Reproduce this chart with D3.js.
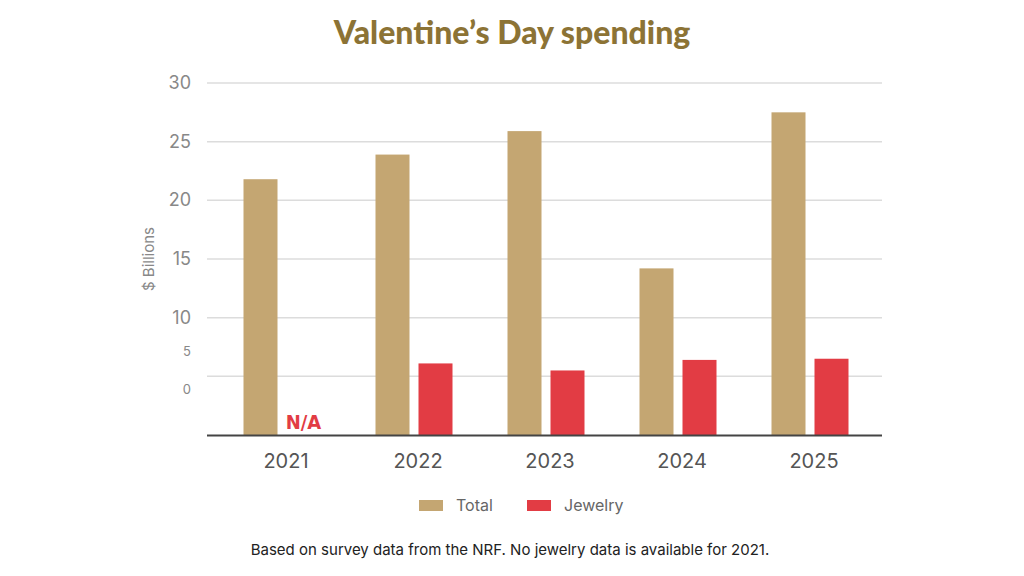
<!DOCTYPE html>
<html><head><meta charset="utf-8">
<script src="https://cdn.jsdelivr.net/npm/d3@7"></script>
<style>body{margin:0;background:#fff}</style></head>
<body><svg id="c" width="1024" height="576"></svg>
<script>
const years = ["2021","2022","2023","2024","2025"];
const total = [21.8, 23.9, 25.9, 14.2, 27.5];
const jewelry = [null, 6.1, 5.5, 6.4, 6.5];
const gridTicks = [0,5,10,15,20,25,30];
const tickLabels = ["0","5","10","15","20","25","30"];

const svg = d3.select("#c");
const y = d3.scaleLinear().domain([0,30]).range([435,83]);
const x = d3.scaleBand().domain(years).range([216,876]);
const bw = 34, gap = 9;

svg.append("text").attr("x",512).attr("y",44).attr("text-anchor","middle")
  .attr("font-family","Lato").attr("font-weight","900").attr("font-size",32)
  .attr("fill","#8c7335").text("Valentine’s Day spending");

svg.selectAll(".g").data(gridTicks.filter(d=>d>0)).enter().append("line")
  .attr("x1",207).attr("x2",882).attr("y1",d=>y(d)).attr("y2",d=>y(d))
  .attr("stroke","#dcdcdc").attr("stroke-width",1.5);

// labels: 10..30 at gridlines, "5" and "0" drawn smaller and offset as in reference
svg.selectAll(".yl").data(gridTicks).enter().append("text")
  .attr("x",191).attr("text-anchor","end")
  .attr("y",(d,i)=> d>=10 ? y(d)+6 : (d===5 ? y(d)-20 : y(d)-41))
  .attr("font-family","Inter").attr("font-size",d=>d>=10?18:13)
  .attr("fill","#888").text((d,i)=>tickLabels[i]);

svg.append("text").attr("transform","translate(154,259) rotate(-90)")
  .attr("text-anchor","middle").attr("font-family","Inter").attr("font-size",15)
  .attr("fill","#888").text("$ Billions");

svg.selectAll(".t").data(years).enter().append("rect")
  .attr("x",d=>x(d)+x.bandwidth()/2-gap/2-bw).attr("width",bw)
  .attr("y",(d,i)=>y(total[i])).attr("height",(d,i)=>y(0)-y(total[i]))
  .attr("fill","#c4a672");
svg.selectAll(".j").data(years.filter((d,i)=>jewelry[i]!=null)).enter().append("rect")
  .attr("x",d=>x(d)+x.bandwidth()/2+gap/2).attr("width",bw)
  .attr("y",d=>y(jewelry[years.indexOf(d)])).attr("height",d=>y(0)-y(jewelry[years.indexOf(d)]))
  .attr("fill","#e23c44");
years.forEach((d,i)=>{ if(jewelry[i]==null) svg.append("text")
  .attr("x",x(d)+x.bandwidth()/2+gap/2+bw/2).attr("y",429).attr("text-anchor","middle")
  .attr("font-family","DejaVu Sans Condensed").attr("font-weight","bold").attr("font-size",20)
  .attr("fill","#e23c44").text("N/A");});

svg.append("line").attr("x1",207).attr("x2",882).attr("y1",435.5).attr("y2",435.5)
  .attr("stroke","#444").attr("stroke-width",2);

svg.selectAll(".xl").data(years).enter().append("text")
  .attr("x",d=>x(d)+x.bandwidth()/2+4).attr("y",468).attr("text-anchor","middle")
  .attr("font-family","Inter").attr("font-size",20).attr("fill","#555").text(d=>d);

const leg=[["Total","#c4a672",419],["Jewelry","#e23c44",527]];
leg.forEach(l=>{svg.append("rect").attr("x",l[2]).attr("y",500).attr("width",24).attr("height",11).attr("fill",l[1]);
 svg.append("text").attr("x",l[2]+37).attr("y",511).attr("font-family","Inter").attr("font-size",16).attr("fill","#666").text(l[0]);});

svg.append("text").attr("x",510).attr("y",555).attr("text-anchor","middle")
  .attr("font-family","Inter").attr("font-size",15).attr("fill","#222")
  .text("Based on survey data from the NRF. No jewelry data is available for 2021.");
</script></body></html>
